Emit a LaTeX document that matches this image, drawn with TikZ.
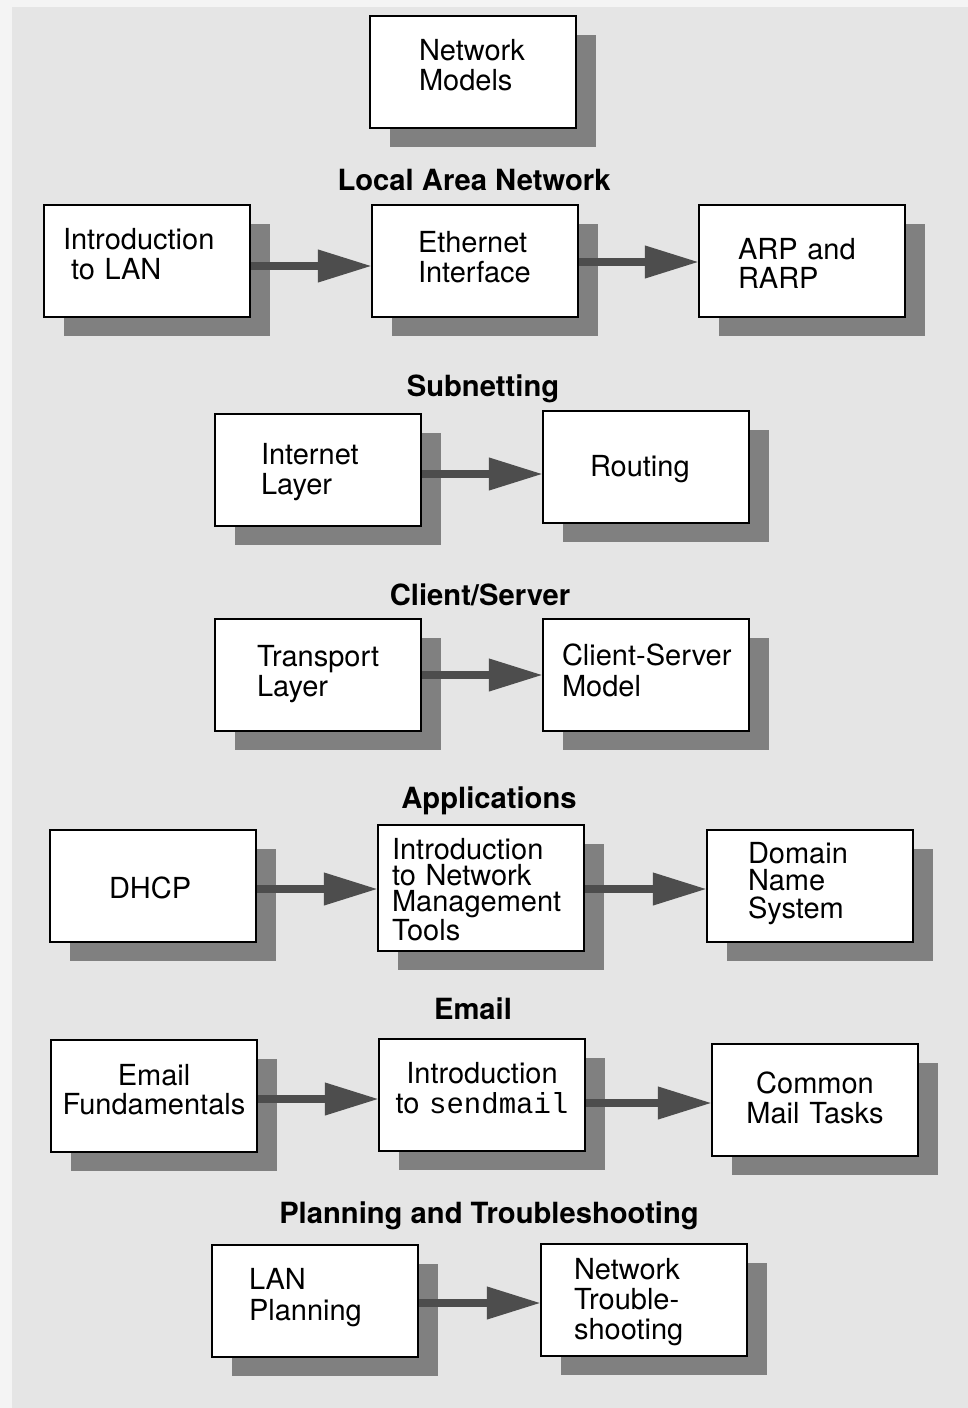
\documentclass[tikz,border=0pt]{standalone}
\usepackage{fontspec}
\setmainfont{TeX Gyre Heros}
\setmonofont{Liberation Mono}
\usepackage{tikz}
\usetikzlibrary{positioning, shadows, arrows.meta}
\hyphenpenalty=10000
\exhyphenpenalty=10000
\definecolor{panelgray}{HTML}{E5E5E5}
\definecolor{outergray}{HTML}{F4F4F4}
\definecolor{shadegray}{HTML}{808080}
\definecolor{arrowgray}{HTML}{4D4D4D}
\tikzstyle{box} = [rectangle, draw=black, line width=2.5pt, fill=white, minimum width=206pt, minimum height=112pt, align=left, inner sep=0pt,
  text height=0pt, drop shadow={shadow xshift=20pt, shadow yshift=-19pt, fill=shadegray, opacity=1}]
\tikzstyle{heading} = [font=\fontsize{29.2}{30}\selectfont\bfseries, inner sep=0pt, text height=20pt, text depth=0pt]
\tikzstyle{flow} = [line width=7.5pt, draw=arrowgray, -{Triangle[length=54pt, width=31pt, fill=arrowgray]}, shorten >=-1pt]

\begin{document}
\begin{tikzpicture}[x=1pt, y=-1pt, every node/.style={font=\fontsize{29}{30}\selectfont}]
  % Background
  \useasboundingbox (0,0) rectangle (968,1408);
  \fill[outergray] (0,0) rectangle (968,1408);
  \fill[panelgray] (12,7) rectangle (968,1408);

  % Network models
  \node[box, inner xsep=49pt, text width=108pt, text depth=24pt] (netmod) at (473,72) {Network\\Models};

  % Local area network
  \node[heading] (lanhead) at (474,180) {Local Area Network};
  \node[box, inner xsep=19pt, text width=168pt, text depth=24pt] (lanintro) at (147,261) {Introduction\\\hspace*{8pt}to LAN};
  \node[box, inner xsep=46pt, text width=114pt, text depth=18pt] (ether) at (475,261) {Ethernet\\Interface};
  \node[box, inner xsep=39pt, text width=128pt, text depth=4pt, font=\fontsize{29}{29}\selectfont] (arp) at (802,261) {ARP and\\RARP};

  % Subnetting
  \node[heading] (subhead) at (483,386) {Subnetting};
  \node[box, inner xsep=46pt, text width=114pt, text depth=12pt] (inet) at (318,470) {Internet\\Layer};
  \node[box, inner xsep=47pt, text width=112pt, text height=18pt, text depth=0pt] (routing) at (646,467) {Routing};

  % Client/Server
  \node[heading] (cshead) at (480,595) {Client/Server};
  \node[box, inner xsep=42pt, text width=122pt, text depth=18pt] (transport) at (318,675) {Transport\\Layer};
  \node[box, inner xsep=19pt, text width=168pt, text depth=20pt, font=\fontsize{29}{31}\selectfont] (clisrv) at (646,675) {Client-Server\\Model};

  % Applications
  \node[heading] (apphead) at (489,798) {Applications};
  \node[box, inner xsep=59pt, text width=88pt, text height=24pt, text depth=0pt] (dhcp) at (153,886) {DHCP};
  \node[box, minimum height=126pt, inner xsep=14pt, text width=178pt, text depth=58pt, font=\fontsize{29}{26.3}\selectfont] (nmtools) at (481,888) {Introduction\\to Network\\Management\\Tools};
  \node[box, inner xsep=41pt, text width=124pt, text depth=46pt, font=\fontsize{29}{27.5}\selectfont] (dns) at (810,886) {Domain\\Name\\System};

  % Email
  \node[heading] (mailhead) at (473,1009) {Email};
  \node[box, align=center, inner xsep=4pt, text width=198pt, text depth=22pt, font=\fontsize{29}{29}\selectfont] (mailfund) at (154,1096) {Email\\Fundamentals};
  \node[box, align=center, inner xsep=10pt, text width=186pt, text depth=24pt] (sendmail) at (482,1095) {Introduction\\to \texttt{sendmail}};
  \node[box, align=center, inner xsep=10pt, text width=186pt, text depth=14pt] (mailtasks) at (815,1100) {Common\\Mail Tasks};

  % Planning and troubleshooting
  \node[heading] (planhead) at (489,1213) {Planning and Troubleshooting};
  \node[box, inner xsep=37pt, text width=132pt, text depth=24pt, font=\fontsize{29}{31}\selectfont] (lanplan) at (315,1301) {LAN\\Planning};
  \node[box, inner xsep=33pt, text width=140pt, text depth=42pt] (trouble) at (644,1300) {Network\\Trouble-\\shooting};

  % Arrows
  \draw[flow] ([yshift=-5pt]lanintro.east) -- ([yshift=-5pt]lanintro.east -| ether.west);
  \draw[flow] ([yshift=-1pt]ether.east) -- ([yshift=-1pt]ether.east -| arp.west);
  \draw[flow] ([yshift=-4pt]inet.east) -- ([yshift=-4pt]inet.east -| routing.west);
  \draw[flow] (transport.east) -- (transport.east -| clisrv.west);
  \draw[flow] ([yshift=-3pt]dhcp.east) -- ([yshift=-3pt]dhcp.east -| nmtools.west);
  \draw[flow] ([yshift=-1pt]nmtools.east) -- ([yshift=-1pt]nmtools.east -| dns.west);
  \draw[flow] ([yshift=-3pt]mailfund.east) -- ([yshift=-3pt]mailfund.east -| sendmail.west);
  \draw[flow] ([yshift=-8pt]sendmail.east) -- ([yshift=-8pt]sendmail.east -| mailtasks.west);
  \draw[flow] ([yshift=-2pt]lanplan.east) -- ([yshift=-2pt]lanplan.east -| trouble.west);
\end{tikzpicture}
\end{document}
